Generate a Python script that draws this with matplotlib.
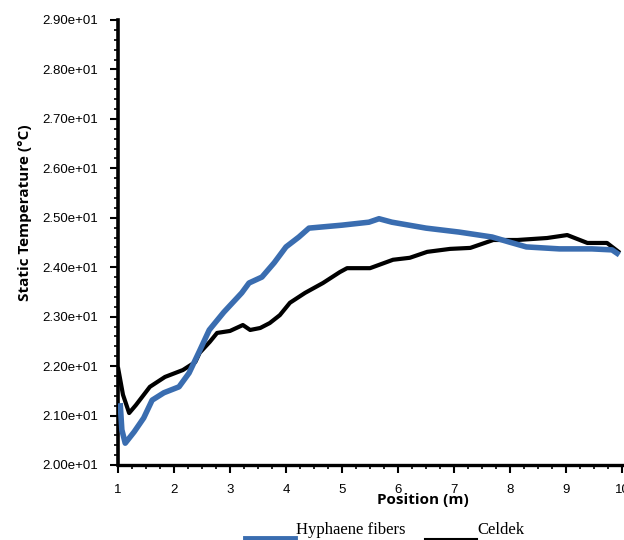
import numpy as np
import matplotlib
matplotlib.use('Agg')
import matplotlib.pyplot as plt
from matplotlib.ticker import FormatStrFormatter, MultipleLocator, AutoMinorLocator
from matplotlib.lines import Line2D

# Celdek pad
celdek_x = [1.0, 1.09, 1.2, 1.32, 1.57, 1.84, 2.16, 2.38, 2.46, 2.64, 2.77, 3.0, 3.23, 3.36,
            3.54, 3.71, 3.89, 4.07, 4.34, 4.66, 4.96, 5.09, 5.5, 5.91, 6.21, 6.52, 6.93, 7.29,
            7.7, 8.13, 8.66, 9.02, 9.38, 9.73, 9.96]
celdek_t = [21.98, 21.42, 21.05, 21.21, 21.58, 21.78, 21.92, 22.08, 22.27, 22.49, 22.67, 22.71,
            22.83, 22.73, 22.77, 22.87, 23.03, 23.28, 23.48, 23.68, 23.90, 23.98, 23.98, 24.15,
            24.19, 24.31, 24.37, 24.39, 24.55, 24.55, 24.59, 24.65, 24.49, 24.49, 24.29]

# Hyphaene fibers pad
hyph_x = [1.04, 1.07, 1.13, 1.29, 1.46, 1.61, 1.82, 2.09, 2.27, 2.45, 2.63, 2.89, 3.21, 3.34,
          3.57, 3.79, 4.0, 4.23, 4.41, 5.0, 5.48, 5.66, 5.89, 6.5, 7.09, 7.68, 7.98, 8.29,
          8.88, 9.46, 9.82, 9.95]
hyph_t = [21.25, 20.71, 20.44, 20.67, 20.95, 21.31, 21.46, 21.58, 21.86, 22.29, 22.73, 23.09,
          23.48, 23.68, 23.80, 24.09, 24.41, 24.61, 24.79, 24.85, 24.91, 24.98, 24.91, 24.79,
          24.71, 24.61, 24.51, 24.41, 24.37, 24.37, 24.35, 24.25]

blue = '#3a6db0'

fig = plt.figure(figsize=(6.24, 5.4), dpi=100)
ax = fig.add_axes([0.189, 0.139, 0.808, 0.824])

ax.plot(hyph_x, hyph_t, color=blue, lw=4.0, solid_capstyle='butt', zorder=3)
ax.plot(celdek_x, celdek_t, color='black', lw=3.0, solid_capstyle='butt', zorder=2)

ax.set_xlim(1, 10)
ax.set_ylim(20, 29)
ax.spines['top'].set_visible(False)
ax.spines['right'].set_visible(False)
ax.spines['left'].set_linewidth(2.6)
ax.spines['bottom'].set_linewidth(2.4)

ax.xaxis.set_major_locator(MultipleLocator(1))
ax.xaxis.set_minor_locator(AutoMinorLocator(4))
ax.yaxis.set_major_locator(MultipleLocator(1))
ax.yaxis.set_minor_locator(AutoMinorLocator(5))
ax.yaxis.set_major_formatter(FormatStrFormatter('%.2e'))

ax.tick_params(which='major', direction='out', length=6, width=1.5, labelsize=9.5)
ax.tick_params(which='minor', direction='out', length=3, width=1.2)
ax.tick_params(axis='y', which='major', pad=8)
ax.tick_params(axis='x', which='major', pad=8)
for lab in ax.get_xticklabels() + ax.get_yticklabels():
    lab.set_family('Liberation Sans')

fig.text(423/624, 1 - 500/540, 'Position (m)', ha='center', va='center',
         fontsize=11, fontweight='bold', family='Open Sans')
fig.text(25/624, 1 - 213/540, 'Static Temperature (°C)', ha='center', va='center',
         rotation=90, fontsize=11, fontweight='bold', family='Open Sans')

# legend drawn under the axis
fig.add_artist(Line2D([245/624, 295/624], [1 - 538/540] * 2, color=blue, lw=3.5,
                      transform=fig.transFigure))
fig.text(296/624, 1 - 530/540, 'Hyphaene fibers', ha='left', va='center',
         fontsize=12, family='Liberation Serif')
fig.add_artist(Line2D([425/624, 477/624], [1 - 539/540] * 2, color='black', lw=1.5,
                      transform=fig.transFigure))
fig.text(477/624, 1 - 530/540, 'Celdek', ha='left', va='center',
         fontsize=12, family='Liberation Serif')

fig.savefig('out.png', dpi=100)
